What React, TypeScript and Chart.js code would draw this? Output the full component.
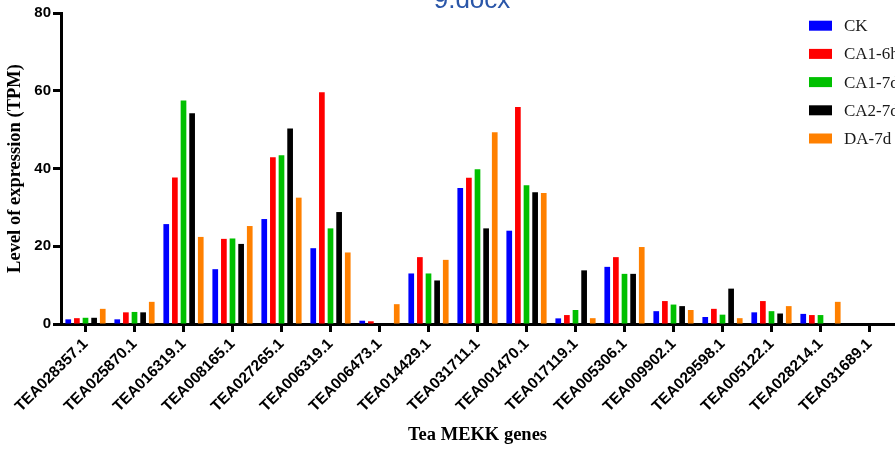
import React, { useEffect, useRef } from "react";
import { Chart, registerables } from "chart.js";

Chart.register(...registerables);

const genes = [
  "TEA028357.1", "TEA025870.1", "TEA016319.1", "TEA008165.1", "TEA027265.1",
  "TEA006319.1", "TEA006473.1", "TEA014429.1", "TEA031711.1", "TEA001470.1",
  "TEA017119.1", "TEA005306.1", "TEA009902.1", "TEA029598.1", "TEA005122.1",
  "TEA028214.1", "TEA031689.1",
];

const ck = [1.2, 1.2, 25.7, 14.1, 27.0, 19.5, 0.85, 13.0, 35.0, 24.0, 1.45, 14.7, 3.3, 1.8, 3.0, 2.6, 0];
const ca16h = [1.5, 3.0, 37.7, 21.9, 42.9, 59.6, 0.7, 17.2, 37.6, 55.8, 2.3, 17.2, 5.9, 3.9, 5.9, 2.3, 0];
const ca17d = [1.6, 3.1, 57.5, 22.0, 43.4, 24.6, 0, 13.0, 39.8, 35.7, 3.6, 12.9, 5.0, 2.4, 3.3, 2.3, 0];
const ca27d = [1.6, 3.0, 54.2, 20.6, 50.3, 28.8, 0, 11.2, 24.6, 33.9, 13.8, 12.9, 4.6, 9.1, 2.7, 0, 0];
const da7d = [3.9, 5.7, 22.4, 25.2, 32.5, 18.4, 5.1, 16.5, 49.3, 33.7, 1.5, 19.8, 3.6, 1.5, 4.6, 5.7, 0];

const seriesNames = ["CK", "CA1-6h", "CA1-7d", "CA2-7d", "DA-7d"];
const seriesColors = ["#0000ff", "#ff0000", "#00c000", "#000000", "#ff8000"];
const yTicks = [0, 20, 40, 60, 80];

const overlayPlugin = {
  id: "overlay",
  afterDraw(chart: any) {
    const ctx = chart.ctx;
    ctx.save();
    // clipped title text at top
    ctx.fillStyle = "#2a56a8";
    ctx.font = "26px 'Liberation Sans', Arial, sans-serif";
    ctx.textAlign = "center";
    ctx.textBaseline = "alphabetic";
    ctx.fillText("9.docx", 472, 8);
    // legend
    ctx.font = "17px 'Liberation Serif', 'Times New Roman', serif";
    ctx.textAlign = "left";
    ctx.textBaseline = "middle";
    chart.data.datasets.forEach((ds: any, i: number) => {
      const cy = 25.7 + i * 28.2;
      ctx.fillStyle = ds.backgroundColor;
      ctx.fillRect(809, cy - 5, 23, 10);
      ctx.fillStyle = "#1a1a1a";
      ctx.fillText(ds.label, 844, cy + 1);
    });
    ctx.restore();
  },
};

export default function App() {
  const ref = useRef<HTMLCanvasElement>(null);
  useEffect(() => {
    if (!ref.current) return;
    const seriesData = [ck, ca16h, ca17d, ca27d, da7d];
    const chart = new Chart(ref.current, {
      type: "bar",
      data: {
        labels: genes,
        datasets: seriesNames.map((name, i) => ({
          label: name,
          data: seriesData[i],
          backgroundColor: seriesColors[i],
          borderWidth: 0,
          categoryPercentage: 0.88,
          barPercentage: 0.66,
        })),
      },
      options: {
        responsive: false,
        animation: false,
        layout: { padding: { top: 13, right: 1, left: 0, bottom: 0 } },
        plugins: {
          legend: { display: false },
          tooltip: { enabled: false },
          title: { display: false },
        },
        scales: {
          x: {
            offset: true,
            grid: {
              offset: false,
              drawOnChartArea: false,
              drawTicks: true,
              tickLength: 8,
              tickWidth: 3,
              tickColor: "#000",
            },
            border: { display: true, color: "#000", width: 3 },
            ticks: {
              color: "#000",
              font: { family: "'Liberation Sans', Arial, sans-serif", size: 15.5, weight: "bold" },
              minRotation: 45,
              maxRotation: 45,
              autoSkip: false,
              padding: 3,
            },
            title: {
              display: true,
              text: "Tea MEKK genes",
              color: "#000",
              font: { family: "'Liberation Serif', 'Times New Roman', serif", size: 18.5, weight: "bold" },
              padding: { top: 4, bottom: 4 },
            },
            afterFit: (s: any) => {
              s.height = 126;
            },
          },
          y: {
            min: 0,
            max: 80,
            afterBuildTicks: (s: any) => {
              s.ticks = yTicks.map((v) => ({ value: v }));
            },
            grid: {
              drawOnChartArea: false,
              drawTicks: true,
              tickLength: 8,
              tickWidth: 3,
              tickColor: "#000",
            },
            border: { display: true, color: "#000", width: 3 },
            ticks: {
              color: "#000",
              font: { family: "'Liberation Sans', Arial, sans-serif", size: 15, weight: "bold" },
              padding: 2,
            },
            title: {
              display: true,
              text: "Level of expression (TPM)",
              color: "#000",
              font: { family: "'Liberation Serif', 'Times New Roman', serif", size: 18.5, weight: "bold" },
              padding: { top: 4, bottom: 2 },
            },
            afterFit: (s: any) => {
              s.width = 61;
            },
          },
        },
      },
      plugins: [overlayPlugin],
    });
    return () => chart.destroy();
  }, []);
  return (
    <div style={{ position: "absolute", left: 0, top: 0, width: 895, height: 450, background: "#fff" }}>
      <canvas ref={ref} width={895} height={450} style={{ display: "block" }} />
    </div>
  );
}
